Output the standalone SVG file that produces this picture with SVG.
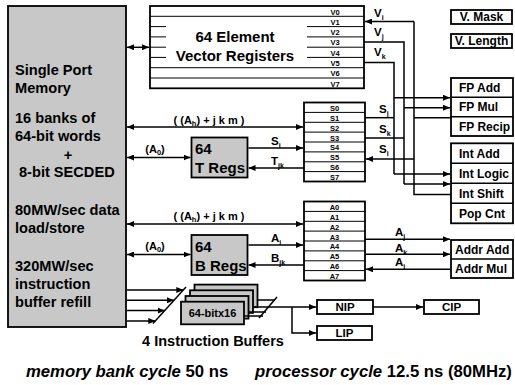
<svg xmlns="http://www.w3.org/2000/svg" width="515" height="385" viewBox="0 0 515 385">
<defs>
<marker id="ah" markerUnits="userSpaceOnUse" markerWidth="7" markerHeight="6" refX="7" refY="3" orient="auto-start-reverse"><path d="M0,0 L7,3 L0,6 z" fill="#000"/></marker>
<style>
text{font-family:"Liberation Sans",Arial,sans-serif;font-weight:bold;fill:#000}
.box{fill:#fff;stroke:#000;stroke-width:1.8}
.gbox{fill:#c8c8c8;stroke:#000;stroke-width:1.8}
.row{stroke:#000;stroke-width:1}
.c{fill:none;stroke:#000;stroke-width:1.5}
.a{fill:none;stroke:#000;stroke-width:1.5;marker-end:url(#ah)}
.d{fill:none;stroke:#000;stroke-width:1.5;marker-end:url(#ah);marker-start:url(#ah)}
.big{font-size:14.6px}
.rl{font-size:7.5px;text-anchor:middle}
.fu{font-size:12px}
.lb{font-size:11px}
.sb{font-size:11.5px}
.mid{text-anchor:middle}
</style>
</defs>

<g id="memory">
<rect class="gbox" x="8" y="6" width="118" height="321"/>
<text class="big" x="15" y="75">Single Port</text>
<text class="big" x="15" y="93">Memory</text>
<text class="big" x="15" y="123">16 banks of</text>
<text class="big" x="15" y="141">64-bit words</text>
<text class="big mid" x="68" y="160">+</text>
<text class="big" x="19" y="177">8-bit SECDED</text>
<text class="big" x="15" y="215">80MW/sec data</text>
<text class="big" x="15" y="233">load/store</text>
<text class="big" x="15" y="271">320MW/sec</text>
<text class="big" x="15" y="289">instruction</text>
<text class="big" x="15" y="307">buffer refill</text>
</g>

<g id="vregs">
<rect class="box" x="150" y="6" width="214" height="82.3"/>
<path class="row" d="M150,16.3H364 M150,26.6H166 M307,26.6H364 M150,36.9H166 M307,36.9H364 M150,47.2H166 M307,47.2H364 M150,57.4H166 M307,57.4H364 M150,67.7H364 M150,78H364"/>
<text class="rl" x="335" y="14.5">V0</text>
<text class="rl" x="335" y="24.8">V1</text>
<text class="rl" x="335" y="35.1">V2</text>
<text class="rl" x="335" y="45.4">V3</text>
<text class="rl" x="335" y="55.6">V4</text>
<text class="rl" x="335" y="65.9">V5</text>
<text class="rl" x="335" y="76.2">V6</text>
<text class="rl" x="335" y="86.5">V7</text>
<text class="big mid" x="235" y="42" style="font-size:15px">64 Element</text>
<text class="big mid" x="235" y="61" style="font-size:15px">Vector Registers</text>
</g>

<g id="vmask">
<rect class="box" x="451" y="10" width="61" height="14"/>
<text class="fu mid" x="481.5" y="21.3">V. Mask</text>
</g>
<g id="vlength">
<rect class="box" x="451" y="34" width="61" height="14"/>
<text class="fu mid" x="481.5" y="45.3">V. Length</text>
</g>

<g id="sregs">
<rect class="box" x="304" y="102.5" width="61" height="79"/>
<path class="row" d="M304,112.4H365 M304,122.3H365 M304,132.1H365 M304,142H365 M304,151.9H365 M304,161.8H365 M304,171.6H365"/>
<text class="rl" x="334.5" y="110.9">S0</text>
<text class="rl" x="334.5" y="120.8">S1</text>
<text class="rl" x="334.5" y="130.6">S2</text>
<text class="rl" x="334.5" y="140.5">S3</text>
<text class="rl" x="334.5" y="150.4">S4</text>
<text class="rl" x="334.5" y="160.3">S5</text>
<text class="rl" x="334.5" y="170.1">S6</text>
<text class="rl" x="334.5" y="180">S7</text>
</g>

<g id="aregs">
<rect class="box" x="304" y="201.5" width="61" height="79"/>
<path class="row" d="M304,211.4H365 M304,221.3H365 M304,231.1H365 M304,241H365 M304,250.9H365 M304,260.8H365 M304,270.6H365"/>
<text class="rl" x="334.5" y="209.9">A0</text>
<text class="rl" x="334.5" y="219.8">A1</text>
<text class="rl" x="334.5" y="229.6">A2</text>
<text class="rl" x="334.5" y="239.5">A3</text>
<text class="rl" x="334.5" y="249.4">A4</text>
<text class="rl" x="334.5" y="259.3">A5</text>
<text class="rl" x="334.5" y="269.1">A6</text>
<text class="rl" x="334.5" y="279">A7</text>
</g>

<g id="tregs">
<rect class="gbox" x="191.5" y="137.5" width="56" height="40"/>
<text class="big" x="195" y="154" style="font-size:15px">64</text>
<text class="big" x="195" y="173" style="font-size:15px">T Regs</text>
</g>
<g id="bregs">
<rect class="gbox" x="191.5" y="235" width="56" height="40"/>
<text class="big" x="195" y="251.5" style="font-size:15px">64</text>
<text class="big" x="195" y="270.5" style="font-size:15px">B Regs</text>
</g>

<g id="fp">
<rect class="box" x="451" y="78" width="62" height="58"/>
<path class="row" d="M451,97.3H513 M451,116.7H513" style="stroke-width:1.5"/>
<text class="fu" x="459" y="92">FP Add</text>
<text class="fu" x="459" y="111.4">FP Mul</text>
<text class="fu" x="459" y="130.8">FP Recip</text>
</g>
<g id="int">
<rect class="box" x="451" y="143.3" width="62" height="80"/>
<path class="row" d="M451,163.3H513 M451,183.3H513 M451,203.3H513" style="stroke-width:1.5"/>
<text class="fu" x="459" y="157.6">Int Add</text>
<text class="fu" x="459" y="177.6">Int Logic</text>
<text class="fu" x="459" y="197.6">Int Shift</text>
<text class="fu" x="459" y="217.6">Pop Cnt</text>
</g>
<g id="addr">
<rect class="box" x="451" y="240" width="62" height="38"/>
<path class="row" d="M451,259H513" style="stroke-width:1.5"/>
<text class="fu" x="455" y="253.8">Addr Add</text>
<text class="fu" x="455" y="272.8">Addr Mul</text>
</g>

<g id="ibuf">
<rect class="gbox" x="194.5" y="284.6" width="63" height="22.6"/>
<rect class="gbox" x="190" y="290.3" width="63" height="22.6"/>
<rect class="gbox" x="185.5" y="296" width="63" height="22.6"/>
<rect class="gbox" x="181" y="301.7" width="63" height="22.6"/>
<text class="mid" x="212.5" y="317" style="font-size:11px">64-bitx16</text>
<text class="mid" x="213" y="345.5" style="font-size:14.5px">4 Instruction Buffers</text>
</g>

<g id="nip"><rect class="box" x="317" y="300" width="56" height="14"/><text class="sb mid" x="345" y="311">NIP</text></g>
<g id="cip"><rect class="box" x="424" y="300" width="55" height="14"/><text class="sb mid" x="451.5" y="311">CIP</text></g>
<g id="lip"><rect class="box" x="317" y="326" width="55" height="14"/><text class="sb mid" x="344.5" y="337">LIP</text></g>

<g id="connectors">
<path class="d" d="M127,47.3H149"/>
<path class="d" d="M127,127H303"/>
<path class="d" d="M127,157.5H190.5"/>
<path class="a" d="M248.5,148H303"/>
<path class="a" d="M304,168H248.5"/>
<path class="d" d="M127,224H303"/>
<path class="d" d="M127,254.5H190.5"/>
<path class="a" d="M248.5,245H303"/>
<path class="a" d="M304,265H248.5"/>
<path class="a" d="M414,21.5H365"/>
<path class="c" d="M364,41.9H404V184"/>
<path class="c" d="M364,62.5H394V174"/>
<path class="c" d="M414,21.5V194.5H451"/>
<path class="c" d="M414,117.7H451"/>
<path class="a" d="M394,97.7H450"/>
<path class="a" d="M404,107.7H450"/>
<path class="c" d="M365,117.7H394"/>
<path class="c" d="M365,138H404"/>
<path class="a" d="M414,159H366"/>
<path class="a" d="M394,174H450"/>
<path class="a" d="M404,184H450"/>
<path class="a" d="M365,239.3H450"/>
<path class="a" d="M365,254.3H450"/>
<path class="a" d="M450,269.3H366"/>
<path class="a" d="M127,290H183.3"/>
<path class="a" d="M127,300.3H174"/>
<path class="a" d="M127,310.6H164.7"/>
<path class="a" d="M127,321H155.3"/>
<path class="c" d="M153,323.5L186,287"/>
<path class="c" d="M257.5,300H275 M248.5,312H266 M244,316H263"/>
<path class="c" d="M259,318L277,297"/>
<path class="a" d="M253,307H316"/>
<path class="a" d="M373,307H423"/>
<path class="a" d="M292,307V333H316"/>
</g>

<g id="labels">
<text class="lb mid" x="209" y="123.5">( (A<tspan dy="2" font-size="7.5">h</tspan><tspan dy="-2">) + j k m )</tspan></text>
<text class="lb mid" x="209" y="220">( (A<tspan dy="2" font-size="7.5">h</tspan><tspan dy="-2">) + j k m )</tspan></text>
<text class="lb mid" x="155" y="152.5">(A<tspan dy="2" font-size="7.5">0</tspan><tspan dy="-2">)</tspan></text>
<text class="lb mid" x="155" y="249.5">(A<tspan dy="2" font-size="7.5">0</tspan><tspan dy="-2">)</tspan></text>
<text class="sb" x="271" y="145">S<tspan dy="3" font-size="7">i</tspan></text>
<text class="sb" x="271" y="165">T<tspan dy="3" font-size="7">jk</tspan></text>
<text class="sb" x="271" y="242">A<tspan dy="3" font-size="7">i</tspan></text>
<text class="sb" x="271" y="262">B<tspan dy="3" font-size="7">jk</tspan></text>
<text class="sb" x="374" y="17">V<tspan dy="3" font-size="7">i</tspan></text>
<text class="sb" x="374" y="36">V<tspan dy="3" font-size="7">j</tspan></text>
<text class="sb" x="374" y="56">V<tspan dy="3" font-size="7">k</tspan></text>
<text class="sb" x="379" y="113">S<tspan dy="3" font-size="7">j</tspan></text>
<text class="sb" x="379" y="133">S<tspan dy="3" font-size="7">k</tspan></text>
<text class="sb" x="379" y="153">S<tspan dy="3" font-size="7">i</tspan></text>
<text class="sb" x="395" y="236">A<tspan dy="3" font-size="7">j</tspan></text>
<text class="sb" x="395" y="251.5">A<tspan dy="3" font-size="7">k</tspan></text>
<text class="sb" x="395" y="266">A<tspan dy="3" font-size="7">i</tspan></text>
<text x="26" y="377" style="font-size:16.7px"><tspan font-style="italic">memory bank cycle</tspan> 50 ns</text>
<text x="255" y="377" style="font-size:16.7px"><tspan font-style="italic">processor cycle</tspan> 12.5 ns (80MHz)</text>
</g>
</svg>
